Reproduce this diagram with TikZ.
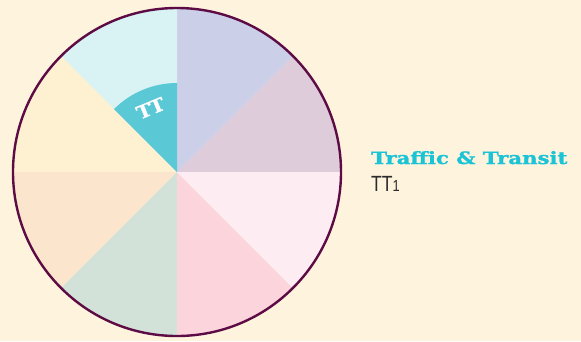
\documentclass[tikz,border=0pt]{standalone}
\usepackage{fontspec}
\setmainfont{Liberation Sans}
\newfontfamily\slabfont{DejaVu Serif Bold}[FakeBold=1.2]
\definecolor{bgcream}{HTML}{FEF3DC}
\definecolor{rimcol}{HTML}{5C0B45}
\definecolor{secA}{HTML}{CBCFE8}
\definecolor{secB}{HTML}{DECCDB}
\definecolor{secC}{HTML}{FDEDF2}
\definecolor{secD}{HTML}{FBD5DB}
\definecolor{secE}{HTML}{D3E2D8}
\definecolor{secF}{HTML}{FCE5CD}
\definecolor{secG}{HTML}{FEF1D1}
\definecolor{secH}{HTML}{D9F3F4}
\definecolor{ttfill}{HTML}{5BC8D6}
\definecolor{tttitle}{HTML}{1AC3D6}
\definecolor{darktext}{HTML}{2B2B2B}
\tikzset{
  wedge/.style={draw=none},
  rim/.style={draw=rimcol, line width=2.4pt},
  legendtitle/.style={anchor=base west, inner sep=0pt, text=tttitle, font=\slabfont\fontsize{17}{17}\selectfont},
  legendcode/.style={anchor=base west, inner sep=0pt, text=darktext, font=\fontsize{22}{22}\selectfont},
  wedgelabel/.style={inner sep=0pt, text=white, font=\slabfont\fontsize{18}{18}\selectfont}
}
\begin{document}
\begin{tikzpicture}[x=1pt,y=-1pt]
  \fill[bgcream] (0,0) rectangle (581,341);
  \useasboundingbox (0,0) rectangle (581,341);
  \coordinate (c) at (177,172);
  % eight equal sectors, listed counter-clockwise from the positive x axis
  \foreach \col [count=\i from 0] in {secB,secA,secH,secG,secF,secE,secD,secC} {
    \fill[wedge, fill=\col] (c) -- ++(-\i*45:164) arc[start angle=-\i*45, end angle=-\i*45-45, radius=164] -- cycle;
  }
  % inner highlighted wedge of the upper-left sector
  \fill[ttfill] (c) -- ++(-90:89) arc[start angle=-90, end angle=-135, radius=89] -- cycle;
  \node[wedgelabel, rotate=22.5] (ttlabel) at ([shift={(-112.5:69)}]c) {\scalebox{1.1}[1]{TT}};
  % outer rim
  \draw[rim] (c) circle[radius=164];
  % legend
  \node[legendtitle] (title) at (371,164) {\scalebox{1.25}[1]{Traffic \& Transit}};
  \node[legendcode] (code) at (371,191.5) {\scalebox{0.8}[1]{TT\fontsize{16}{16}\selectfont 1}};
\end{tikzpicture}
\end{document}
